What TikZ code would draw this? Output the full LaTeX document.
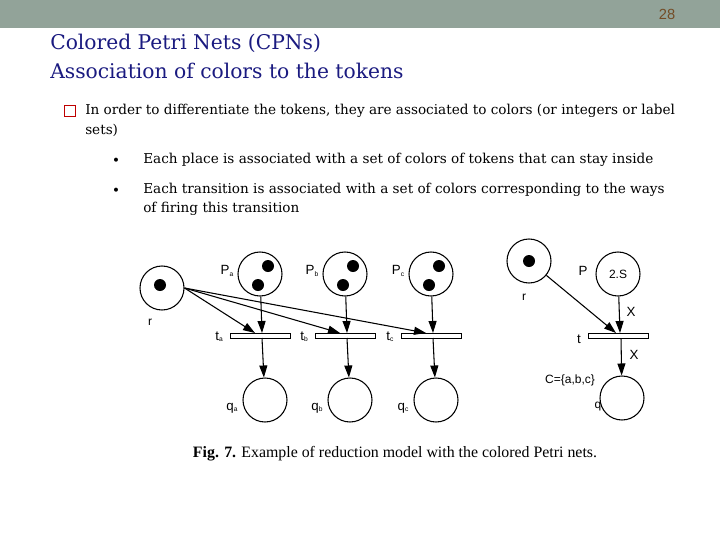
\documentclass[tikz,border=0pt]{standalone}
\usepackage{fontspec}
\setmainfont{Liberation Serif}
\newfontfamily\hv{Liberation Sans}
\newfontfamily\dv{DejaVu Serif}
\usetikzlibrary{arrows.meta}
\definecolor{barc}{HTML}{92A399}
\definecolor{titc}{HTML}{1A1A80}
\tikzset{
 pl/.style={circle,draw,thick,minimum size=44*0.75pt,inner sep=0pt},
 tr/.style={draw,semithick,minimum width=60*0.75pt,minimum height=5*0.75pt,inner sep=0pt},
 tok/.style={circle,fill=black,minimum size=12*0.75pt,inner sep=0pt},
 arc/.style={thick,-{Triangle[length=9pt,width=6pt]}},
 lb/.style={font=\hv\fontsize{9}{10}\selectfont,inner sep=0pt},
 tx/.style={anchor=west,inner sep=0pt,font=\dv\fontsize{10.2}{12}\selectfont},
 ttl/.style={anchor=west,inner sep=0pt,text=titc,font=\dv\fontsize{15.2}{18}\selectfont},
}
\begin{document}
\begin{tikzpicture}[x=0.75pt,y=-0.75pt]
\useasboundingbox (0,0) rectangle (720,540);
\fill[barc] (0,0) rectangle (720,28);
\node[font=\hv\fontsize{11}{12}\selectfont,text=brown!60!black] (pg) at (667,14) {28};
\node[ttl] (t1) at (50,43) {Colored Petri Nets (CPNs)};
\node[ttl] (t2) at (50,71) {Association of colors to the tokens};
\node[draw=red!75!black,thick,minimum size=8pt,inner sep=0pt] (b0) at (70,111) {};
\node[tx] (l1) at (85,111) {In order to differentiate the tokens, they are associated to colors (or integers or label};
\node[tx] (l2) at (85,130) {sets)};
\node[font=\fontsize{7}{8}\selectfont] (b1) at (116,160) {$\bullet$};
\node[font=\fontsize{7}{8}\selectfont] (b2) at (116,190) {$\bullet$};
\node[tx] (l3) at (143,160) {Each place is associated with a set of colors of tokens that can stay inside};
\node[tx] (l4) at (143,190) {Each transition is associated with a set of colors corresponding to the ways};
\node[tx] (l5) at (143,209) {of firing this transition};
% left net
\node[pl] (r) at (162,288) {};
\node[tok] (rt) at (160,285) {};
\node[lb] (rl) at (150,322) {r};
\foreach \n/\x/\s in {a/260/a,b/345/b,c/431/c}{
 \node[pl] (P\n) at (\x,274) {};
 \node[tok] (P\n1) at (\x+8,266) {};
 \node[tok] (P\n2) at (\x-2,285) {};
 \node[lb,font=\hv\fontsize{10}{11}\selectfont] (P\n l) at (\x-33,271) {P\raisebox{-1pt}{\tiny\s}};
 \node[tr] (t\n) at (\x,335.5) {};
 \node[lb,font=\hv\fontsize{10}{11}\selectfont] (t\n l) at (\x-41,337) {t\raisebox{-1pt}{\tiny\s}};
 \node[pl] (q\n) at (\x+5,400) {};
 \node[lb,font=\hv\fontsize{10}{11}\selectfont] (q\n l) at (\x-28,408) {q\raisebox{-1pt}{\tiny\s}};
 \draw[arc] (P\n) -- (\x+2,333);
 \draw[arc] (\x+2,338) -- (q\n);
 \draw[arc] (r.east) -- (\x-5,333);
}
% right net
\node[pl] (r2) at (529,261) {};
\node[tok] (r2t) at (529,261) {};
\node[lb] (r2l) at (524,297) {r};
\node[pl,font=\hv\fontsize{9}{10}\selectfont] (P) at (618,274) {2.S};
\node[lb,font=\hv\fontsize{10}{11}\selectfont] (Pl) at (583,271) {P};
\node[tr] (t) at (618,335.5) {};
\node[lb,font=\hv\fontsize{10}{11}\selectfont] (tl) at (579,339) {t};
\node[pl] (q) at (622,398) {};
\node[lb] (ql) at (598,407) {q};
\node[lb,font=\hv\fontsize{10}{11}\selectfont] (x1) at (631,312) {X};
\node[lb,font=\hv\fontsize{10}{11}\selectfont] (x2) at (634,355) {X};
\node[lb] (C) at (570,380) {C=\{a,b,c\}};
\draw[arc] (r2) -- (616,333);
\draw[arc] (P) -- (620,333);
\draw[arc] (621,338) -- (q);
\node[inner sep=0pt,font=\fontsize{11.9}{14}\selectfont] (cap) at (395,454) {\textbf{Fig. 7.} Example of reduction model with the colored Petri nets.};
\end{tikzpicture}
\end{document}
